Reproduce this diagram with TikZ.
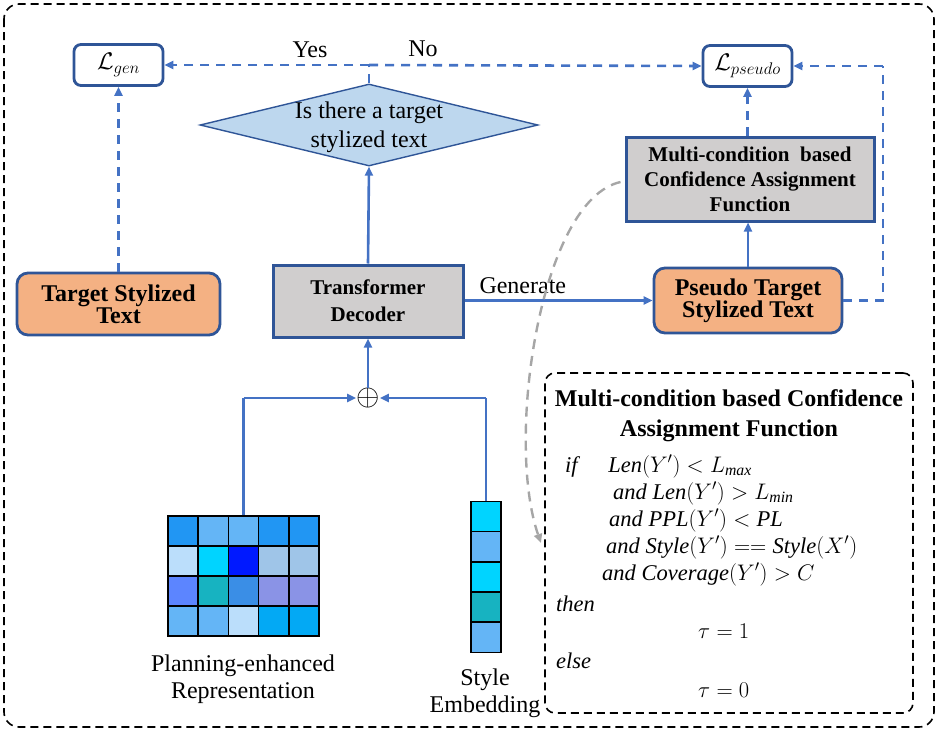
\RequirePackage{fix-cm}
\documentclass[tikz,border=0pt]{standalone}
\usepackage{fontspec}
\setmainfont{Liberation Serif}
\usetikzlibrary{shapes.geometric,arrows.meta,calc}
\definecolor{bdr}{HTML}{2F5597}
\definecolor{arr}{HTML}{4472C4}
\definecolor{orng}{HTML}{F4B183}
\definecolor{gryf}{HTML}{D0CECE}
\definecolor{dfill}{HTML}{BDD7EE}
\definecolor{c1}{HTML}{2196F3}
\definecolor{c2}{HTML}{64B5F6}
\definecolor{c3}{HTML}{BBDEFB}
\definecolor{c4}{HTML}{00D4FF}
\definecolor{c5}{HTML}{0019FF}
\definecolor{c6}{HTML}{9FC5E8}
\definecolor{c7}{HTML}{5C85FF}
\definecolor{c8}{HTML}{17B3C1}
\definecolor{c9}{HTML}{3A8EE6}
\definecolor{c10}{HTML}{8A93E6}
\definecolor{c11}{HTML}{03A9F4}
\tikzset{
  txt/.style={font=\fontsize{24}{26}\selectfont, inner sep=0pt},
  lossbox/.style={draw=bdr, line width=2.8pt, rounded corners=7pt, fill=white, minimum width=89pt, minimum height=41pt, inner sep=0pt, font=\fontsize{24}{26}\selectfont},
  orangebox/.style={draw=bdr, line width=2.8pt, rounded corners=11pt, fill=orng, inner sep=0pt, align=center, font=\fontsize{24}{26}\selectfont\bfseries},
  graybox/.style={draw=bdr, line width=3pt, fill=gryf, inner sep=0pt, align=center},
  solidarr/.style={draw=arr, line width=2.6pt, -{Triangle[length=9pt,width=8pt]}},
  solidln/.style={draw=arr, line width=2.6pt},
  dasharr/.style={draw=arr, line width=2.6pt, dash pattern=on 9pt off 7pt, -{Triangle[length=9pt,width=8pt]}},
  dashln/.style={draw=arr, line width=2.6pt, dash pattern=on 9pt off 7pt},
  cell/.style={draw=black, line width=1.5pt, minimum width=30.2pt, minimum height=30pt, inner sep=0pt},
}
\begin{document}
\begin{tikzpicture}[x=1pt,y=-1pt]
\useasboundingbox (0,0) rectangle (938,731);
% outer frame
\draw[black, line width=1.6pt, dash pattern=on 8pt off 5pt, rounded corners=15pt] (4,4) rectangle (934,727);

% loss boxes
\node[lossbox] (lgen) at (118.5,65) {$\mathcal{L}_{gen}$};
\node[lossbox] (lps) at (747.5,66) {$\mathcal{L}_{pseudo}$};

% diamond
\node[diamond, draw=bdr, line width=1.4pt, fill=dfill, minimum width=338pt, minimum height=82pt, inner sep=0pt, aspect=4.1] (dia) at (369,125) {};
\node[txt, align=center, font=\fontsize{24}{29}\selectfont] at (369,127) {Is there a target\\stylized text};

% decoder
\node[graybox, minimum width=190pt, minimum height=72pt, font=\fontsize{21}{27}\selectfont\bfseries] (dec) at (368,301) {Transformer\\Decoder};

% target stylized text
\node[orangebox, minimum width=203pt, minimum height=62pt] (tst) at (118.5,304) {Target Stylized\\[-4pt]Text};

% pseudo target
\node[orangebox, minimum width=188pt, minimum height=65pt] (pts) at (748,300.5) {Pseudo Target\\[-4pt]Stylized Text};

% MC box
\node[graybox, minimum width=248pt, minimum height=84pt, font=\fontsize{21}{25}\selectfont\bfseries] (mc) at (750,179) {Multi-condition\ \ based\\Confidence Assignment\\Function};

% oplus
\node[inner sep=0pt, font=\fontsize{30}{30}\selectfont] (op) at (368,398) {$\oplus$};

% junction
\coordinate (junc) at (369,65);
\draw[dashln] (dia.north) -- (junc);
\draw[dasharr] (junc) -- (lgen.east);
\draw[dasharr] (junc) -- (lps.west);
\node[txt] at (310,50) {Yes};
\node[txt] at (423,49) {No};

\draw[dasharr] (tst.north) -- (lgen.south);
\draw[solidarr] (dec.north) -- (dia.south);
\draw[solidarr] (op.north) -- (dec.south);
\draw[solidarr] (dec.east |- pts.west) -- node[txt, above=5pt, pos=0.31] {Generate} (pts.west);
\draw[solidarr] (pts.north) -- (pts.north |- mc.south);
\draw[dasharr] (mc.north -| lps.south) -- (lps.south);
\coordinate (rc) at (883,66);
\draw[dashln] (pts.east) -| (rc);
\draw[dasharr] (rc) -- (lps.east);

% grid
\foreach \r/\row in {0/{c1,c2,c2,c1,c1},1/{c3,c4,c5,c6,c6},2/{c7,c8,c9,c10,c10},3/{c2,c2,c3,c11,c11}}{
  \foreach \cc [count=\c from 0] in \row {
    \node[cell, fill=\cc] (g\r\c) at (183.1+30.2*\c, 531+30*\r) {};
  }
}
% style embedding
\foreach \cc [count=\i from 0] in {c4,c2,c4,c8,c2}{
  \node[cell, fill=\cc, minimum width=30pt] (s\i) at (486,516.5+30.2*\i) {};
}
\coordinate (gtop) at (243.5,398);
\draw[solidln] (g02.north) -- (gtop);
\draw[solidarr] (gtop) -- (op.west);
\coordinate (stop) at (486,398);
\draw[solidln] (s0.north) -- (stop);
\draw[solidarr] (stop) -- (op.east);

\node[txt, align=center, font=\fontsize{24}{27}\selectfont] (glab) at (243,679) {Planning-enhanced\\Representation};
\node[txt, align=center, font=\fontsize{24}{27}\selectfont] (slab) at (485,693) {Style\\Embedding};

% right dashed box
\node[draw=black, line width=1.6pt, dash pattern=on 8pt off 5pt, rounded corners=10pt, minimum width=368pt, minimum height=340pt, inner sep=0pt] (rb) at (729,543) {};
\node[txt, align=center, font=\fontsize{24}{30}\selectfont\bfseries] (rbt) at (729,416) {Multi-condition based Confidence\\Assignment Function};
\node[inner sep=0pt, anchor=north west, align=left, font=\fontsize{22.5}{27}\selectfont] (rbb) at (556,455) {%
\hspace*{9pt}\textit{if}\hspace{28pt}$\mathit{Len}(Y')<L_{\mathit{max}}$\\[0pt]
\hspace*{57pt}\textit{and} $\mathit{Len}(Y')>L_{\mathit{min}}$\\[0pt]
\hspace*{53pt}\textit{and} $\mathit{PPL}(Y')<\mathit{PL}$\\[0pt]
\hspace*{50pt}\textit{and} $\mathit{Style}(Y')==\mathit{Style}(X')$\\[0pt]
\hspace*{46pt}\textit{and} $\mathit{Coverage}(Y')>C$\\[4pt]
\textit{then}\\[0pt]
\hspace*{142pt}$\tau=1$\\[3pt]
\textit{else}\\[2pt]
\hspace*{142pt}$\tau=0$};

% gray curve
\coordinate (cend) at (541,543);
\draw[gray!70, line width=2.4pt, dash pattern=on 10pt off 7pt, -{Triangle[length=9pt,width=8pt]}] (mc.west) ++(-4,3) .. controls (540,200) and (505,440) .. (cend);
\end{tikzpicture}
\end{document}
